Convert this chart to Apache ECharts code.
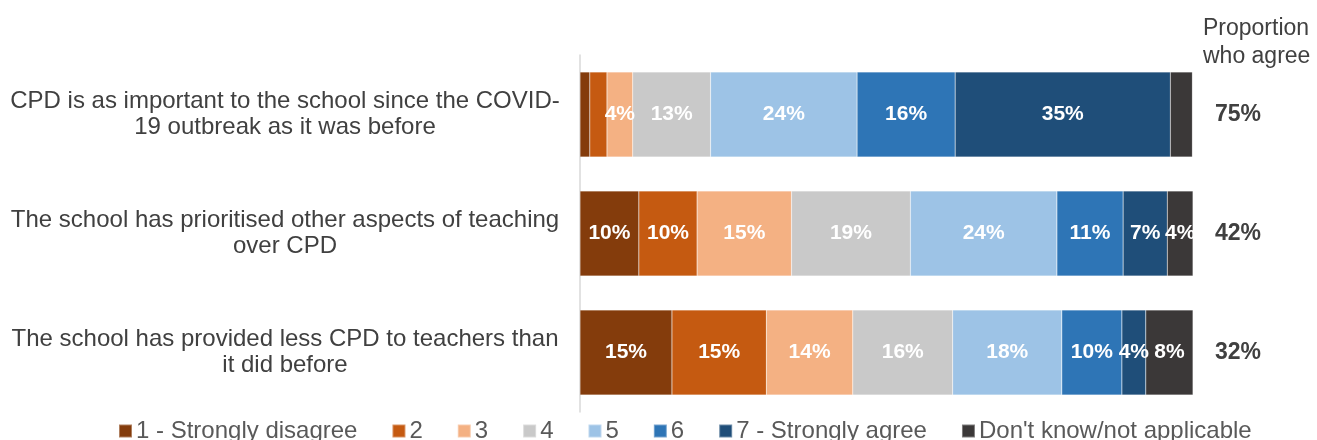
<!DOCTYPE html>
<html>
<head>
<meta charset="utf-8">
<script src="https://cdn.jsdelivr.net/npm/echarts@6/dist/echarts.min.js"></script>
<style>
  html, body { margin: 0; padding: 0; background: #fff; }
  #chart { width: 1317px; height: 440px; }
</style>
</head>
<body>
<div id="chart"></div>
<script>
const categories = [
  'CPD is as important to the school since the COVID-\n19 outbreak as it was before',
  'The school has prioritised other aspects of teaching\nover CPD',
  'The school has provided less CPD to teachers than\nit did before'
]
const seriesNames = ['1 - Strongly disagree', '2', '3', '4', '5', '6', '7 - Strongly agree', "Don't know/not applicable"]
const colors = ['#843C0C', '#C55A11', '#F4B183', '#C9C9C9', '#9DC3E6', '#2E75B6', '#1F4E79', '#3B3838']

// one array per response, in category order (percent)
const disagree1 = [1.6, 9.6, 15.0]
const resp2 = [2.8, 9.5, 15.4]
const resp3 = [4.2, 15.4, 14.1]
const resp4 = [12.7, 19.4, 16.3]
const resp5 = [23.9, 23.9, 17.8]
const resp6 = [16.0, 10.8, 9.8]
const agree7 = [35.1, 7.2, 3.9]
const dontKnow = [3.6, 4.2, 7.7]
const proportionAgree = [75, 42, 32]

const values = [disagree1, resp2, resp3, resp4, resp5, resp6, agree7, dontKnow]

const chart = echarts.init(document.getElementById('chart'))

const series = values.map((arr, i) => ({
  name: seriesNames[i],
  type: 'bar',
  stack: 'total',
  barWidth: 85,
  itemStyle: { color: colors[i], borderColor: 'rgba(255,255,255,0.35)', borderWidth: 0.5 },
  label: {
    show: true,
    color: '#fff',
    fontWeight: 'bold',
    fontSize: 21,
    fontFamily: 'Liberation Sans, Arial, sans-serif',
    // small slices are left unlabelled, as in the original
    formatter: p => (p.value >= 3.8 ? Math.round(p.value) + '%' : '')
  },
  emphasis: { disabled: true },
  data: arr
}))

chart.setOption({
  animation: false,
  textStyle: { fontFamily: 'Liberation Sans, Arial, sans-serif' },
  grid: { left: 580, right: 124, top: 55, bottom: 28, containLabel: false },
  legend: {
    top: 414,
    left: 113,
    itemWidth: 13,
    itemHeight: 13,
    itemGap: 34,
    icon: 'rect',
    textStyle: { fontSize: 24, color: '#595959', padding: [0, 0, 0, -1] },
    data: seriesNames
  },
  xAxis: { type: 'value', min: 0, max: 100, show: false },
  yAxis: [
    {
      type: 'category',
      data: categories,
      inverse: true,
      axisLine: { lineStyle: { color: '#D9D9D9', width: 1.5 } },
      axisTick: { show: false },
      axisLabel: {
        color: '#404040',
        fontSize: 24,
        lineHeight: 26,
        align: 'center',
        margin: 295
      }
    },
    {
      type: 'category',
      data: proportionAgree.map(v => v + '%'),
      inverse: true,
      position: 'right',
      axisLine: { show: false },
      axisTick: { show: false },
      axisLabel: {
        color: '#404040',
        fontSize: 23,
        fontWeight: 'bold',
        align: 'left',
        margin: 22
      }
    }
  ],
  graphic: [{
    type: 'text',
    left: 1203,
    top: 15,
    style: {
      text: 'Proportion\nwho agree',
      fill: '#404040',
      fontSize: 23,
      lineHeight: 28,
      align: 'center',
      fontFamily: 'Liberation Sans, Arial, sans-serif'
    }
  }],
  series
})
</script>
</body>
</html>
